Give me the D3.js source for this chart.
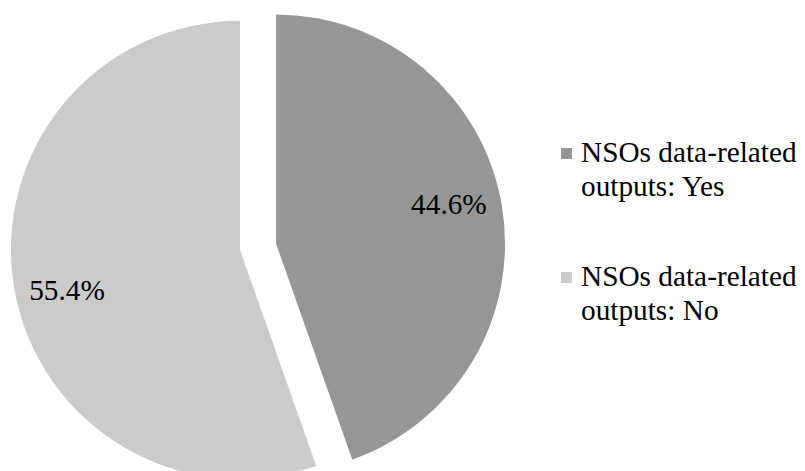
<!DOCTYPE html>
<html>
<head>
<meta charset="utf-8">
<script src="https://cdn.jsdelivr.net/npm/d3@7"></script>
</head>
<body style="margin:0;background:#fff">
<svg id="chart" width="805" height="471" style="display:block"></svg>
<script>
const categories = ["NSOs data-related outputs: Yes", "NSOs data-related outputs: No"];
const legendLines = [["NSOs data-related", "outputs: Yes"], ["NSOs data-related", "outputs: No"]];
const values = [44.6, 55.4];
const valueLabels = ["44.6%", "55.4%"];
const colors = ["#969696", "#cbcbcb"];

const FONT = "'Liberation Serif'";
const svg = d3.select("#chart");
const cx = 258, cy = 246.7, r = 229, explode = 18.3;
const fontSize = 29.3;

const pie = d3.pie().sort(null).value(d => d).startAngle(0).endAngle(2 * Math.PI);
const arcs = pie(values);
const arc = d3.arc().innerRadius(0).outerRadius(r);

const g = svg.append("g");
arcs.forEach((a, i) => {
  const mid = (a.startAngle + a.endAngle) / 2;
  const ox = cx + explode * Math.sin(mid);
  const oy = cy - explode * Math.cos(mid);
  const sg = g.append("g").attr("transform", `translate(${ox},${oy})`);
  sg.append("path").attr("d", arc(a)).attr("fill", colors[i]);
});
arcs.forEach((a, i) => {
  const mid = (a.startAngle + a.endAngle) / 2;
  const ox = cx + explode * Math.sin(mid);
  const oy = cy - explode * Math.cos(mid);
  const la = mid - 3.3 * Math.PI / 180;
  const lr = r * 0.775;
  svg.append("text")
    .attr("x", ox + lr * Math.sin(la))
    .attr("y", oy - lr * Math.cos(la) + 10)
    .attr("text-anchor", "middle")
    .attr("font-size", fontSize)
    .style("font-family", FONT)
    .attr("fill", "#000")
    .text(valueLabels[i]);
});

categories.forEach((c, i) => {
  const y0 = 148 + i * 124;
  svg.append("rect").attr("x", 561).attr("y", y0).attr("width", 11).attr("height", 11).attr("fill", colors[i]);
  legendLines[i].forEach((ln, j) => {
    svg.append("text").attr("x", 581).attr("y", y0 + 14 + j * 34).attr("font-size", fontSize)
      .style("font-family", FONT).attr("fill", "#000").text(ln);
  });
});
</script>
</body>
</html>
